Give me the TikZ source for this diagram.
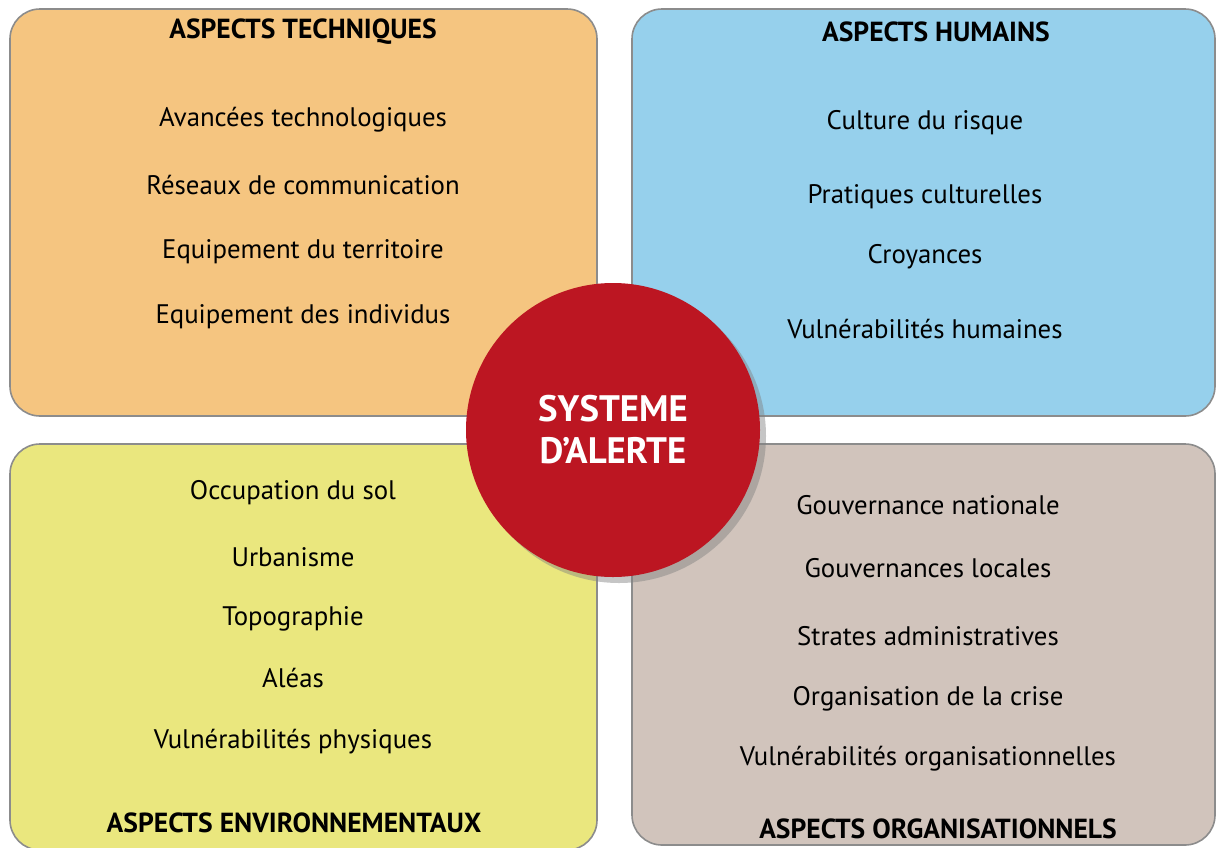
\documentclass[tikz,border=0pt]{standalone}
\usepackage{fontspec}
\setmainfont{PT Sans}
\usetikzlibrary{positioning,shadows}
\usepackage{xcolor}
\definecolor{techcol}{HTML}{F5C580}
\definecolor{humcol}{HTML}{96D0EC}
\definecolor{envcol}{HTML}{EAE77E}
\definecolor{orgcol}{HTML}{D1C4BC}
\definecolor{alertred}{HTML}{BC1622}

\begin{document}
\begin{tikzpicture}[x=0.5pt,y=-0.5pt,
  panel/.style={draw=black!45, line width=0.8pt, rounded corners=15pt},
  item/.style={font=\fontsize{13.4}{16}\selectfont, anchor=center},
  title/.style={font=\bfseries\fontsize{13.8}{16}\selectfont, anchor=center}]

\useasboundingbox (0,0) rectangle (1216,847);

\fill[white] (0,0) rectangle (1216,847);
\filldraw[panel, fill=techcol] (10,9) rectangle (597,416);
\filldraw[panel, fill=humcol] (632,9) rectangle (1215,416);
\filldraw[panel, fill=envcol] (10,444) rectangle (597,850);
\filldraw[panel, fill=orgcol] (632,444) rectangle (1215,845);

% aspects techniques
\node[title] (tech) at (303,32) {ASPECTS TECHNIQUES};
\node[item] (t1) at (303,120) {Avancées technologiques};
\node[item] (t2) at (303,185) {Réseaux de communication};
\node[item] (t3) at (303,252) {Equipement du territoire};
\node[item] (t4) at (303,317) {Equipement des individus};

% aspects humains
\node[title] (hum) at (936,32) {ASPECTS HUMAINS};
\node[item] (h1) at (925,123) {Culture du risque};
\node[item] (h2) at (925,197) {Pratiques culturelles};
\node[item] (h3) at (925,257) {Croyances};
\node[item] (h4) at (925,329) {Vulnérabilités humaines};

% aspects environnementaux
\node[item] (e1) at (293,493) {Occupation du sol};
\node[item] (e2) at (293,557) {Urbanisme};
\node[item] (e3) at (293,619) {Topographie};
\node[item] (e4) at (293,678) {Aléas};
\node[item] (e5) at (293,742) {Vulnérabilités physiques};
\node[title] (env) at (294,823) {ASPECTS ENVIRONNEMENTAUX};

% aspects organisationnels
\node[item] (o1) at (928,505) {Gouvernance nationale};
\node[item] (o2) at (928,568) {Gouvernances locales};
\node[item] (o3) at (928,636) {Strates administratives};
\node[item] (o4) at (928,699) {Organisation de la crise};
\node[item] (o5) at (928,759) {Vulnérabilités organisationnelles};
\node[title] (org) at (938,829) {ASPECTS ORGANISATIONNELS};

% centre
\node[circle, fill=alertred, minimum size=147pt, inner sep=0pt,
  drop shadow={shadow xshift=3pt, shadow yshift=-3pt, opacity=0.45},
  text=white, align=center,
  font=\bfseries\fontsize{18.4}{21}\selectfont] (alert) at (613,430)
  {SYSTEME\\D’ALERTE};

\end{tikzpicture}
\end{document}
